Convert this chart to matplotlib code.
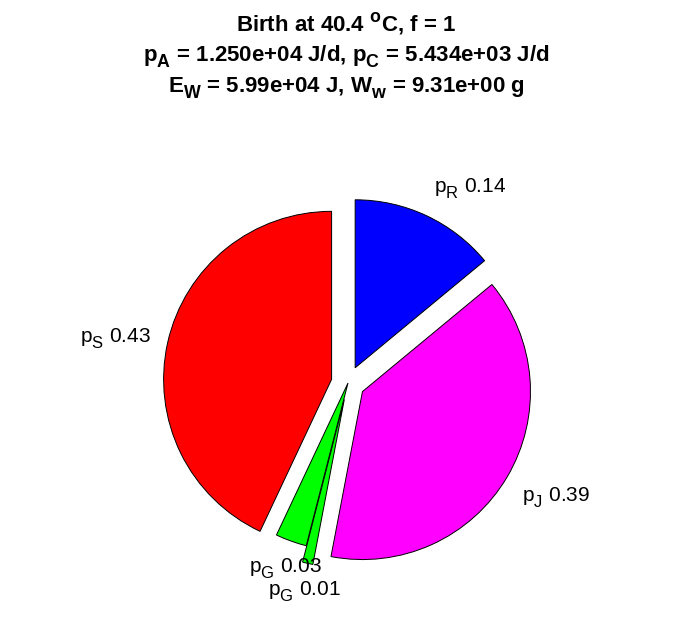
import numpy as np
import matplotlib
matplotlib.use("Agg")
import matplotlib.pyplot as plt
import matplotlib._mathtext as _mt

# MATLAB-like larger, lower subscripts
_mt.SHRINK_FACTOR = 0.8
_mt.FontConstantsBase.sub1 = 0.55
_mt.FontConstantsBase.sup1 = 0.8

plt.rcParams['font.family'] = ['Liberation Sans', 'DejaVu Sans']
plt.rcParams['mathtext.fontset'] = 'custom'
plt.rcParams['mathtext.rm'] = 'Liberation Sans'
plt.rcParams['mathtext.it'] = 'Liberation Sans:italic'
plt.rcParams['mathtext.bf'] = 'Liberation Sans:bold'

# data
names = ['R', 'J', 'G', 'G', 'S']
fractions = [0.14, 0.39, 0.01, 0.03, 0.43]
explode = [0.1, 0.1, 0.1, 0.0, 0.1]
colors = ['#0000ff', '#ff00ff', '#00ff00', '#00ff00', '#ff0000']
title_lines = [r'Birth at 40.4 $^\mathbf{o}$C, f = 1',
               r'p$_\mathbf{A}$ = 1.250e+04 J/d, p$_\mathbf{C}$ = 5.434e+03 J/d',
               r'E$_\mathbf{W}$ = 5.99e+04 J, W$_\mathbf{w}$ = 9.31e+00 g']

W, H = 696, 618
fig = plt.figure(figsize=(W / 100, H / 100), dpi=100)
ax = fig.add_axes([0, 0, 1, 1])
scale = 168.0
cx, cy = 348.0, 383.0

wedges, _ = ax.pie(fractions, explode=explode, colors=colors, startangle=90,
                   counterclock=False, radius=1.0, normalize=True,
                   wedgeprops=dict(edgecolor='black', linewidth=0.7))
ax.set_xlim(-cx / scale, (W - cx) / scale)
ax.set_ylim(-(H - cy) / scale, cy / scale)
ax.set_aspect('equal')
ax.axis('off')

for w, n, f in zip(wedges, names, fractions):
    th = np.deg2rad((w.theta1 + w.theta2) / 2)
    c, s = np.cos(th), np.sin(th)
    x0, y0 = w.center
    x, y = x0 + 1.1 * c, y0 + 1.1 * s
    ha = 'left' if c > 0.38 else ('right' if c < -0.38 else 'center')
    va = 'bottom' if s > 0.3 else ('top' if s < -0.3 else 'center')
    ax.text(x, y, r'p$_\mathrm{%s}$ %.2f' % (n, f), ha=ha, va=va, fontsize=15)

ys = [31, 61, 92]
for t, yb in zip(title_lines, ys):
    fig.text(346 / W, 1 - yb / H, t, ha='center', va='baseline',
             fontsize=16, fontweight='bold')

fig.savefig('out.png', dpi=100)
